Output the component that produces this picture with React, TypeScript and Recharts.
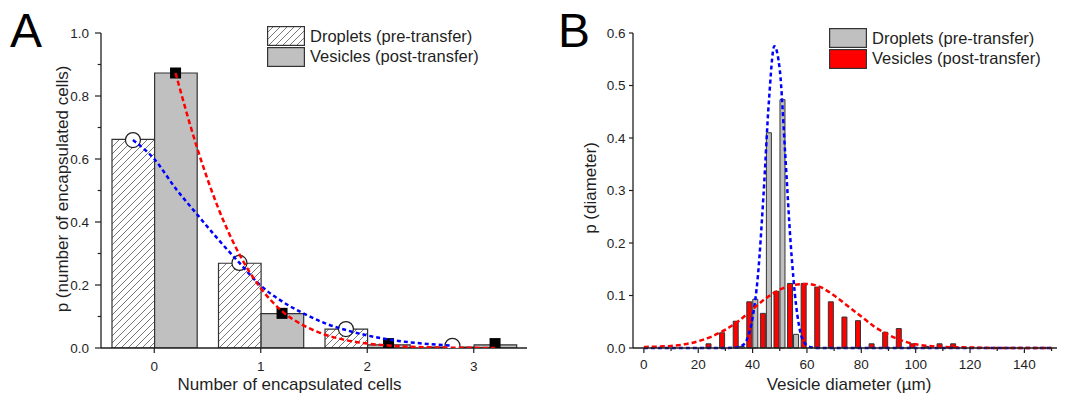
import React from 'react'
import { ComposedChart, Bar, Line, Scatter, XAxis, YAxis, Legend } from 'recharts'

const INK = '#1f1f1f'
const EDGE = '#333'
const FONT = '"Liberation Sans", Arial, Helvetica, sans-serif'

// A: number of encapsulated cells
const cellCounts = [0, 1, 2, 3]
const dropletCellShare = [0.662, 0.269, 0.06, 0.003]
const vesicleCellShare = [0.873, 0.109, 0.01, 0.01]
const dropletPointX = [-0.2, 0.8, 1.8, 2.8]
const dropletPointY = [0.66, 0.27, 0.06, 0.007]
const vesiclePointX = [0.2, 1.2, 2.2, 3.2]
const vesiclePointY = [0.873, 0.11, 0.014, 0.014]
const dropletFitX = [-0.2, 0, 0.2, 0.4, 0.6, 0.8, 1, 1.2, 1.4, 1.6, 1.8, 2, 2.2, 2.4, 2.6, 2.8]
const dropletFitY = [0.66, 0.6, 0.507, 0.425, 0.345, 0.27, 0.198, 0.148, 0.11, 0.079, 0.057, 0.04, 0.027, 0.018, 0.012, 0.007]
const vesicleFitX = [0.2, 0.4, 0.6, 0.8, 1, 1.2, 1.4, 1.6, 1.8, 2, 2.2, 2.4, 2.6, 2.8, 3, 3.2]
const vesicleFitY = [0.873, 0.638, 0.445, 0.297, 0.19, 0.117, 0.072, 0.043, 0.025, 0.014, 0.008, 0.004, 0.002, 0.001, 0.0005, 0]
const cellTicks = [0, 1, 2, 3]
const cellShareTicks = [0, 0.1, 0.2, 0.3, 0.4, 0.5, 0.6, 0.7, 0.8, 0.9, 1]

// B: vesicle diameter
const diameterBins = [20, 25, 30, 35, 40, 45, 50, 55, 60, 65, 70, 75, 80, 85, 90, 95, 100, 105, 110, 115]
const dropletDiamShare = [0, 0, 0, 0.003, 0.093, 0.41, 0.473, 0.026, 0, 0, 0, 0, 0, 0, 0, 0, 0, 0, 0, 0]
const vesicleDiamShare = [0, 0.008, 0.029, 0.051, 0.088, 0.066, 0.108, 0.123, 0.123, 0.116, 0.088, 0.059, 0.052, 0.008, 0.03, 0.037, 0.008, 0.003, 0.008, 0.008]
const dropletGaussX = [0, 10, 20, 30, 34, 36, 38, 40, 42, 44, 46, 48, 50, 52, 54, 56, 58, 60, 62, 64, 80, 100, 120, 150]
const dropletGaussY = [0, 0, 0, 0, 0.001, 0.004, 0.017, 0.058, 0.14, 0.29, 0.47, 0.575, 0.53, 0.37, 0.2, 0.082, 0.022, 0.005, 0.001, 0, 0, 0, 0, 0]
const vesicleGaussX = [0, 10, 15, 20, 25, 30, 35, 40, 45, 50, 55, 60, 65, 70, 75, 80, 85, 90, 95, 100, 105, 110, 120, 130, 150]
const vesicleGaussY = [0.002, 0.004, 0.007, 0.013, 0.022, 0.035, 0.052, 0.074, 0.095, 0.111, 0.12, 0.122, 0.116, 0.1, 0.08, 0.06, 0.04, 0.025, 0.014, 0.007, 0.004, 0.002, 0.001, 0, 0]
const diameterTicks = [0, 10, 20, 30, 40, 50, 60, 70, 80, 90, 100, 110, 120, 130, 140, 150]
const diameterShareTicks = [0, 0.1, 0.2, 0.3, 0.4, 0.5, 0.6]

const legendLabels = ['Droplets (pre-transfer)', 'Vesicles (post-transfer)']

const zip = (xs: number[], ys: number[]) => xs.map((x, i) => ({ x, y: ys[i] }))

const cellRows = cellCounts.map((x, i) => ({ x, droplets: dropletCellShare[i], vesicles: vesicleCellShare[i] }))
const diamRows = diameterBins.map((x, i) => ({ x, droplets: dropletDiamShare[i], vesicles: vesicleDiamShare[i] }))

const yTick = (size: number, margin: number, isMajor: (v: number) => boolean) => (p: any) => {
  const v = p.payload.value
  const ax = p.x + size + margin
  const major = isMajor(v)
  return (
    <g>
      <line x1={ax - (major ? size : size * 0.55)} x2={ax} y1={p.y} y2={p.y} stroke={INK} strokeWidth={1.2} />
      {major && (
        <text x={p.x} y={p.y} dy="0.36em" textAnchor="end" fontSize={13.5} fill={INK} fontFamily={FONT}>
          {v.toFixed(1)}
        </text>
      )}
    </g>
  )
}

const xTick = (size: number, margin: number, isMajor: (v: number) => boolean) => (p: any) => {
  const v = p.payload.value
  const ay = p.y - size - margin
  const major = isMajor(v)
  return (
    <g>
      <line x1={p.x} x2={p.x} y1={ay} y2={ay + (major ? size : size * 0.6)} stroke={INK} strokeWidth={1.2} />
      {major && (
        <text x={p.x} y={p.y} dy="0.71em" textAnchor="middle" fontSize={13.5} fill={INK} fontFamily={FONT}>
          {v}
        </text>
      )}
    </g>
  )
}

const legendBox = (fills: string[]) => () => (
  <div style={{ fontFamily: FONT, fontSize: 16.5, color: INK }}>
    {legendLabels.map((label, i) => (
      <div key={label} style={{ display: 'flex', alignItems: 'center', height: 20.5 }}>
        <svg width={38} height={20} style={{ display: 'block' }}>
          <rect x={0.6} y={0.6} width={36.8} height={18.8} fill={fills[i]} stroke={EDGE} strokeWidth={1.2} />
        </svg>
        <span style={{ marginLeft: 5, whiteSpace: 'nowrap' }}>{label}</span>
      </div>
    ))}
  </div>
)

const ring = (p: any) => <circle cx={p.cx} cy={p.cy} r={7.5} fill="#fff" stroke={INK} strokeWidth={1.2} />
const block = (p: any) => <rect x={p.cx - 5.5} y={p.cy - 5.5} width={11} height={11} fill="#000" />

const axisLine = { stroke: INK, strokeWidth: 1.3 }

function CellsPanel() {
  return (
    <ComposedChart width={540} height={395} data={cellRows} barGap={0} margin={{ top: 33, right: 13, bottom: 17, left: 61 }}>
      <defs>
        <pattern id="hatchA" width="7" height="7" patternUnits="userSpaceOnUse">
          <rect width="7" height="7" fill="#fff" />
          <path d="M-1,1 L1,-1 M0,7 L7,0 M6,8 L8,6" stroke="#555" strokeWidth="0.8" />
        </pattern>
      </defs>
      <XAxis
        xAxisId="main"
        type="number"
        dataKey="x"
        domain={[-0.5, 3.5]}
        ticks={cellTicks}
        interval={0}
        allowDataOverflow
        height={30}
        axisLine={axisLine}
        tickLine={false}
        tickSize={5}
        tickMargin={8}
        tick={xTick(5, 8, () => true)}
      />
      <XAxis xAxisId="bins" type="number" dataKey="x" domain={[-0.5, 3.5]} orientation="top" height={0} hide />
      <YAxis
        type="number"
        domain={[0, 1]}
        ticks={cellShareTicks}
        interval={0}
        allowDataOverflow
        width={40}
        axisLine={axisLine}
        tickLine={false}
        tickSize={6}
        tickMargin={6}
        tick={yTick(6, 6, (v) => Math.abs(v * 5 - Math.round(v * 5)) < 1e-6)}
      />
      <Bar xAxisId="bins" dataKey="droplets" fill="url(#hatchA)" stroke={EDGE} strokeWidth={1.2} barSize={42.6} isAnimationActive={false} />
      <Bar xAxisId="bins" dataKey="vesicles" fill="#c0c0c0" stroke={EDGE} strokeWidth={1.2} barSize={42.6} isAnimationActive={false} />
      <Scatter xAxisId="main" data={zip(dropletPointX, dropletPointY)} dataKey="y" shape={ring} isAnimationActive={false} />
      <Scatter xAxisId="main" data={zip(vesiclePointX, vesiclePointY)} dataKey="y" shape={block} isAnimationActive={false} />
      <Line xAxisId="main" data={zip(dropletFitX, dropletFitY)} dataKey="y" type="monotone" stroke="#0000ff" strokeWidth={2.5} strokeDasharray="4 3" dot={false} activeDot={false} isAnimationActive={false} zIndex={700} />
      <Line xAxisId="main" data={zip(vesicleFitX, vesicleFitY)} dataKey="y" type="monotone" stroke="#ff0000" strokeWidth={2.5} strokeDasharray="5 3" dot={false} activeDot={false} isAnimationActive={false} zIndex={700} />
      <Legend layout="horizontal" verticalAlign="middle" align="center" wrapperStyle={{ left: 267, top: 26, width: 260 }} content={legendBox(['url(#hatchA)', '#c0c0c0'])} />
      <text x={10} y={47} fontSize={48} fill="#000" fontFamily={FONT}>A</text>
      <text x={289.5} y={390} textAnchor="middle" fontSize={17} fill={INK} fontFamily={FONT}>Number of encapsulated cells</text>
      <text transform="translate(68,189) rotate(-90)" textAnchor="middle" fontSize={17} fill={INK} fontFamily={FONT}>p (number of encapsulated cells)</text>
    </ComposedChart>
  )
}

function DiameterPanel() {
  return (
    <ComposedChart width={528} height={395} data={diamRows} barGap={1} margin={{ top: 33, right: 11, bottom: 17, left: 53 }}>
      <XAxis
        xAxisId="main"
        type="number"
        dataKey="x"
        domain={[-4, 152]}
        ticks={diameterTicks}
        interval={0}
        height={30}
        axisLine={axisLine}
        tickLine={false}
        tickSize={5}
        tickMargin={6}
        tick={xTick(5, 6, (v) => v % 20 === 0)}
      />
      <XAxis xAxisId="bins" type="number" dataKey="x" domain={[-4, 152]} orientation="top" height={0} hide />
      <YAxis
        type="number"
        domain={[0, 0.6]}
        ticks={diameterShareTicks}
        interval={0}
        width={40}
        axisLine={axisLine}
        tickLine={false}
        tickSize={4}
        tickMargin={3.5}
        tick={yTick(4, 3.5, () => true)}
      />
      <Bar xAxisId="bins" dataKey="vesicles" fill="#ff0000" stroke={EDGE} strokeWidth={1} barSize={5} isAnimationActive={false} />
      <Bar xAxisId="bins" dataKey="droplets" fill="#c0c0c0" stroke={EDGE} strokeWidth={1} barSize={5} isAnimationActive={false} />
      <Line xAxisId="main" data={zip(dropletGaussX, dropletGaussY)} dataKey="y" type="monotone" stroke="#0000ff" strokeWidth={2.5} strokeDasharray="4 3" dot={false} activeDot={false} isAnimationActive={false} />
      <Line xAxisId="main" data={zip(vesicleGaussX, vesicleGaussY)} dataKey="y" type="monotone" stroke="#ff0000" strokeWidth={2.5} strokeDasharray="5 3" dot={false} activeDot={false} isAnimationActive={false} />
      <Legend layout="horizontal" verticalAlign="middle" align="center" wrapperStyle={{ left: 289, top: 28, width: 230 }} content={legendBox(['#c0c0c0', '#ff0000'])} />
      <text x={18} y={47} fontSize={48} fill="#000" fontFamily={FONT}>B</text>
      <text x={309} y={390} textAnchor="middle" fontSize={17} fill={INK} fontFamily={FONT}>Vesicle diameter (µm)</text>
      <text transform="translate(56,188) rotate(-90)" textAnchor="middle" fontSize={17} fill={INK} fontFamily={FONT}>p (diameter)</text>
    </ComposedChart>
  )
}

export default function App() {
  return (
    <div style={{ position: 'absolute', left: 0, top: 0, width: 1068, height: 395, background: '#fff', overflow: 'hidden' }}>
      <div style={{ position: 'absolute', left: 0, top: 0 }}>
        <CellsPanel />
      </div>
      <div style={{ position: 'absolute', left: 540, top: 0 }}>
        <DiameterPanel />
      </div>
    </div>
  )
}
